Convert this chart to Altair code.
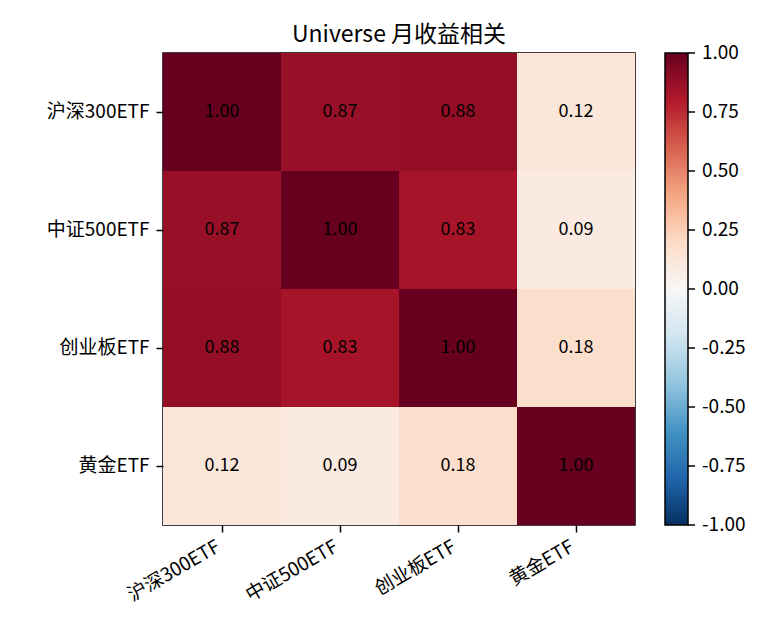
import altair as alt
import pandas as pd

assets = ["沪深300ETF", "中证500ETF", "创业板ETF", "黄金ETF"]
corr = [
    [1.00, 0.87, 0.88, 0.12],
    [0.87, 1.00, 0.83, 0.09],
    [0.88, 0.83, 1.00, 0.18],
    [0.12, 0.09, 0.18, 1.00],
]
cbar_ticks = [-1.0, -0.75, -0.5, -0.25, 0.0, 0.25, 0.5, 0.75, 1.0]
title_text = "Universe 月收益相关"
# RdBu_r colour stops (ColorBrewer RdBu, reversed) and their positions
cmap_stops = [-1.0, -0.8, -0.6, -0.4, -0.2, 0.0, 0.2, 0.4, 0.6, 0.8, 1.0]
cmap_colors = ["#053061", "#2166ac", "#4393c3", "#92c5de", "#d1e5f0", "#f7f7f7",
               "#fddbc7", "#f4a582", "#d6604d", "#b2182b", "#67001f"]

FONT = "Noto Sans CJK SC"
SIZE = 472

rows = []
for i, r in enumerate(assets):
    for j, c in enumerate(assets):
        rows.append({"row": r, "col": c, "value": corr[i][j]})
df = pd.DataFrame(rows)
ticks_df = pd.DataFrame({"tv": cbar_ticks})

color_scale = alt.Scale(domain=cmap_stops, range=cmap_colors, interpolate="rgb")

base = alt.Chart(df)
rect = base.mark_rect().encode(
    x=alt.X("col:N", sort=assets, title=None,
            scale=alt.Scale(paddingInner=0, paddingOuter=0),
            axis=alt.Axis(labelAngle=-30, labelAlign="right", labelBaseline="top",
                          labelOffset=-8, labelPadding=5)),
    y=alt.Y("row:N", sort=assets, title=None,
            scale=alt.Scale(paddingInner=0, paddingOuter=0),
            axis=alt.Axis(labelPadding=7)),
    color=alt.Color("value:Q", scale=color_scale,
                    legend=alt.Legend(orient="none", legendX=502, legendY=0,
                                      type="gradient",
                                      direction="vertical", title=None,
                                      gradientLength=SIZE, gradientThickness=23,
                                      gradientStrokeColor="black", gradientStrokeWidth=1.5,
                                      labelOpacity=0, labelFontSize=1, padding=0)),
)
text = base.mark_text(font=FONT, fontSize=18, color="black").encode(
    x=alt.X("col:N", sort=assets),
    y=alt.Y("row:N", sort=assets),
    text=alt.Text("value:Q", format=".2f"),
)
heat = alt.layer(rect, text)

cb_scale = alt.Scale(domain=[-1, 1], nice=False, zero=False)
cb_base = alt.Chart(ticks_df).transform_calculate(
    lbl="replace(format(datum.tv, '.2f'), '\u2212', '-')"
)
cb_rule = cb_base.mark_rule(color="black", strokeWidth=1.5).encode(
    y=alt.Y("tv:Q", scale=cb_scale, axis=None),
    x=alt.value(525), x2=alt.value(532),
)
cb_text = cb_base.mark_text(font=FONT, fontSize=19, align="left",
                             baseline="middle", color="black").encode(
    y=alt.Y("tv:Q", scale=cb_scale, axis=None),
    x=alt.value(539),
    text="lbl:N",
)
cbar = alt.layer(cb_rule, cb_text)

chart = alt.layer(heat, cbar).resolve_scale(y="independent").properties(
    width=SIZE, height=SIZE,
    background="white",
    title=alt.TitleParams(title_text, font=FONT, fontSize=23, fontWeight="normal",
                          anchor="middle", baseline="alphabetic", offset=12, dy=33,
                          frame="group", color="black"),
    autosize=alt.AutoSizeParams(type="none"),
    padding={"left": 155, "top": 45, "right": 127, "bottom": 97},
).configure_view(
    stroke="black", strokeWidth=1.5
).configure_axis(
    domain=False, ticks=True, tickColor="black", tickWidth=1.5, tickSize=7,
    labelFont=FONT, labelFontSize=19, labelColor="black", grid=False,
)

chart.save("out.html", embed_options={"renderer": "svg", "actions": False})
